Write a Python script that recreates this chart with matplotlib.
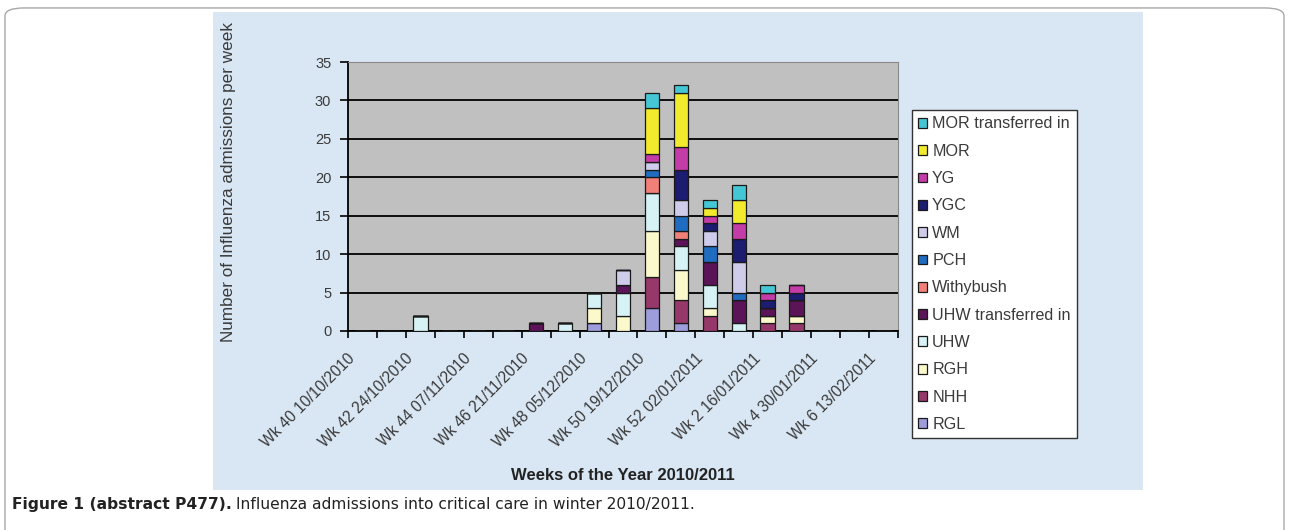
import numpy as np
import matplotlib
matplotlib.use("Agg")
import matplotlib.pyplot as plt
import matplotlib.transforms as mtransforms
from matplotlib.patches import FancyBboxPatch, Rectangle

plt.rcParams['font.family'] = ['Liberation Sans', 'DejaVu Sans']

# 19 weekly categories, Wk 40 2010 .. Wk 6 2011
weeks = ["Wk 40 10/10/2010", "Wk 41", "Wk 42 24/10/2010", "Wk 43", "Wk 44 07/11/2010",
         "Wk 45", "Wk 46 21/11/2010", "Wk 47", "Wk 48 05/12/2010", "Wk 49",
         "Wk 50 19/12/2010", "Wk 51", "Wk 52 02/01/2011", "Wk 1", "Wk 2 16/01/2011",
         "Wk 3", "Wk 4 30/01/2011", "Wk 5", "Wk 6 13/02/2011"]
tick_labels = [w if i % 2 == 0 else "" for i, w in enumerate(weeks)]

# admissions per hospital per week (stack order bottom -> top)
RGL =        [0, 0, 0, 0, 0, 0, 0, 0, 1, 0, 3, 1, 0, 0, 0, 0, 0, 0, 0]
NHH =        [0, 0, 0, 0, 0, 0, 0, 0, 0, 0, 4, 3, 2, 0, 1, 1, 0, 0, 0]
RGH =        [0, 0, 0, 0, 0, 0, 0, 0, 2, 2, 6, 4, 1, 0, 1, 1, 0, 0, 0]
UHW =        [0, 0, 2, 0, 0, 0, 0, 1, 2, 3, 5, 3, 3, 1, 0, 0, 0, 0, 0]
UHW_trans =  [0, 0, 0, 0, 0, 0, 1, 0, 0, 1, 0, 1, 3, 3, 1, 2, 0, 0, 0]
Withybush =  [0, 0, 0, 0, 0, 0, 0, 0, 0, 0, 2, 1, 0, 0, 0, 0, 0, 0, 0]
PCH =        [0, 0, 0, 0, 0, 0, 0, 0, 0, 0, 1, 2, 2, 1, 0, 0, 0, 0, 0]
WM =         [0, 0, 0, 0, 0, 0, 0, 0, 0, 2, 1, 2, 2, 4, 0, 0, 0, 0, 0]
YGC =        [0, 0, 0, 0, 0, 0, 0, 0, 0, 0, 0, 4, 1, 3, 1, 1, 0, 0, 0]
YG =         [0, 0, 0, 0, 0, 0, 0, 0, 0, 0, 1, 3, 1, 2, 1, 1, 0, 0, 0]
MOR =        [0, 0, 0, 0, 0, 0, 0, 0, 0, 0, 6, 7, 1, 3, 0, 0, 0, 0, 0]
MOR_trans =  [0, 0, 0, 0, 0, 0, 0, 0, 0, 0, 2, 1, 1, 2, 1, 0, 0, 0, 0]

series = [("RGL", RGL), ("NHH", NHH), ("RGH", RGH), ("UHW", UHW),
          ("UHW transferred in", UHW_trans), ("Withybush", Withybush),
          ("PCH", PCH), ("WM", WM), ("YGC", YGC), ("YG", YG),
          ("MOR", MOR), ("MOR transferred in", MOR_trans)]
colors = ["#9d9ddc", "#96386a", "#fbf8cc", "#d6f2f4", "#5a1457", "#f08078",
          "#1f6cc0", "#cfcceb", "#1c1c70", "#c43ca8", "#f2ea2c", "#45c6d4"]

fig = plt.figure(figsize=(12.9, 5.3), dpi=100)

# page frame and chart background
fig.patches.append(FancyBboxPatch((5 / 1290, -0.05), 1279 / 1290, 1.035, transform=fig.transFigure,
                                  boxstyle="round,pad=0,rounding_size=0.015",
                                  facecolor="white", edgecolor="#a8a8a8", lw=1.0, zorder=-2))
fig.patches.append(Rectangle((213 / 1290, 40 / 530), 930 / 1290, 478 / 530, transform=fig.transFigure,
                             facecolor="#d9e6f3", edgecolor="none", zorder=-1))

ax = fig.add_axes([348 / 1290, 199 / 530, 550 / 1290, 269 / 530])
ax.set_facecolor("#c0c0c0")

x = np.arange(len(weeks))
bottom = np.zeros(len(weeks))
handles = []
for (name, vals), c in zip(series, colors):
    v = np.array(vals, dtype=float)
    b = ax.bar(x, v, 0.5, bottom=bottom, color=c, edgecolor="#1a1a1a", lw=0.9,
               label=name, zorder=3)
    handles.append(b)
    bottom += v

ax.set_xlim(-0.5, len(weeks) - 0.5)
ax.set_ylim(0, 35)
ax.set_yticks(np.arange(0, 36, 5))
ax.yaxis.grid(True, color="black", lw=1.3, zorder=1)
ax.set_axisbelow(True)

ax.set_xticks(x)
ax.set_xticklabels(tick_labels, rotation=45, ha="right", rotation_mode="anchor",
                   fontsize=11.2, color="#3a3a3a")
ax.tick_params(axis="x", length=0, pad=8)
shift = mtransforms.ScaledTranslation(-0.15, -0.09, fig.dpi_scale_trans)
for lab in ax.get_xticklabels():
    lab.set_transform(lab.get_transform() + shift)
ax.set_xticks(np.arange(-0.5, len(weeks), 1), minor=True)
ax.tick_params(axis="x", which="minor", length=5, width=1.2, direction="out", color="black")
ax.tick_params(axis="y", length=6, width=1.2, direction="out", labelsize=10.5,
               labelcolor="#3a3a3a", pad=6)

for s in ["left", "bottom"]:
    ax.spines[s].set_color("black")
    ax.spines[s].set_linewidth(1.3)
for s in ["top", "right"]:
    ax.spines[s].set_color("#8a8a8a")
    ax.spines[s].set_linewidth(0.8)

fig.text(623 / 1290, 1 - 475 / 530, "Weeks of the Year 2010/2011", fontsize=12,
         fontweight="bold", ha="center", va="center", color="#222222")
fig.text(228 / 1290, 1 - 182 / 530, "Number of Influenza admissions per week",
         rotation=90, ha="center", va="center", fontsize=12.3, color="#3a3a3a")

leg = fig.legend(handles[::-1], [s[0] for s in series][::-1], loc="upper left",
                 bbox_to_anchor=(912 / 1290, 1 - 110 / 530), fontsize=11.6,
                 frameon=True, fancybox=False, edgecolor="#333333", facecolor="white",
                 framealpha=1, handlelength=0.55, handleheight=0.55, handletextpad=0.3,
                 labelspacing=0.765, borderpad=0.4, borderaxespad=0)
leg.get_frame().set_linewidth(1.0)
for t in leg.get_texts():
    t.set_color("#3a3a3a")

# caption
cap1 = fig.text(12 / 1290, 1 - 505 / 530, "Figure 1 (abstract P477).", fontsize=11.2,
                fontweight="bold", va="center", color="#222222", family="DejaVu Sans")
fig.canvas.draw()
bb = cap1.get_window_extent()
fig.text((bb.x1 + 4) / 1290, 1 - 505 / 530,
         "Influenza admissions into critical care in winter 2010/2011.",
         fontsize=11.2, va="center", color="#222222", family="DejaVu Sans")

fig.savefig("out.png", dpi=100)
